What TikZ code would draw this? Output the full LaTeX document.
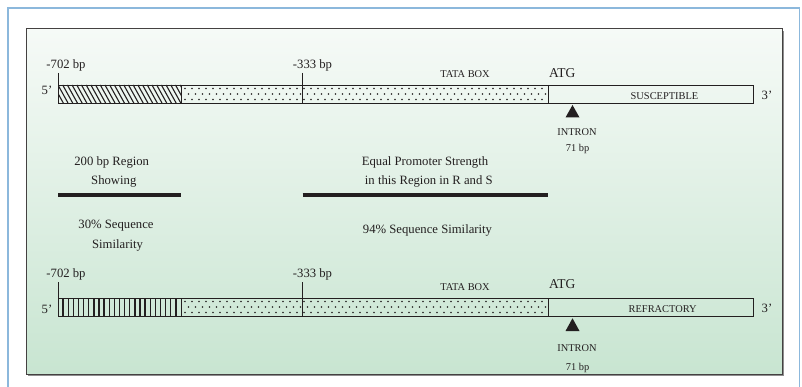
\documentclass[tikz,border=0pt]{standalone}
\usepackage{fontspec}
\setmainfont{Liberation Serif}
\definecolor{frameblue}{HTML}{8CB8DC}
\definecolor{grtop}{HTML}{F6FAF7}
\definecolor{grbot}{HTML}{C8E5D1}
\definecolor{ink}{HTML}{231F20}
\definecolor{shadowgray}{HTML}{8E8E8E}
\begin{document}
\begin{tikzpicture}[x=1pt,y=-1pt,
  lab/.style={inner sep=0pt, anchor=base, text=ink, font=\fontsize{12.7}{14}\selectfont},
  small/.style={inner sep=0pt, anchor=base, text=ink, font=\fontsize{10.4}{12}\selectfont},
  atg/.style={inner sep=0pt, anchor=base, text=ink, font=\fontsize{13.5}{15}\selectfont},
  barline/.style={draw=ink, line width=0.8pt},
  tickline/.style={draw=ink, line width=0.7pt},
  hatchline/.style={draw=ink, line width=1.1pt},
  vline/.style={draw=ink, line width=1.3pt},
  bigbar/.style={draw=ink, line width=4.5pt},
  dotmark/.style={fill=ink},
  intronmark/.style={fill=ink, draw=none}]
\useasboundingbox (0,0) rectangle (802,387);
% outer blue frame
\draw[frameblue, line width=1.4pt] (8,387) -- (8,8) -- (799.5,8) -- (799.5,387);
% inner panel with shadow
\fill[shadowgray] (28,31) rectangle (784,376);
\shade[top color=grtop, bottom color=grbot] (26,29) rectangle (782,374);
\draw[draw=ink!85, line width=1pt] (26,29) rectangle (782,374);

% ================= TOP (SUSCEPTIBLE) =================
\begin{scope}
\clip (58,85) rectangle (181,103);
\foreach \i in {-3,...,27} \draw[hatchline] ({58+\i*4.7},85) -- ++(10,18);
\end{scope}
\begin{scope}
\clip (181,85) rectangle (547,103);
\foreach \i in {0,...,52} {
  \fill[dotmark] ({185+\i*7},88.5) circle (0.8);
  \fill[dotmark] ({188.5+\i*7},94) circle (0.8);
  \fill[dotmark] ({185+\i*7},99.5) circle (0.8);
}
\end{scope}
\draw[barline] (58,85) rectangle (753,103);
\draw[barline] (181,85) -- (181,103);
\draw[barline] (302.7,85) -- (302.7,103);
\draw[barline] (548,85) -- (548,103);
\draw[tickline] (58,73) -- (58,85);
\draw[tickline] (302.7,73) -- (302.7,85);
\fill[intronmark] (572.5,105) -- (579.5,117.5) -- (565.5,117.5) -- cycle;

\node[lab] (t702) at (66,68.3) {-702 bp};
\node[lab] (t333) at (312.5,68.3) {-333 bp};
\node[lab] (t5) at (47,94.3) {5’};
\node[small] (ttata) at (465,77.7) {TATA BOX};
\node[atg, anchor=base west] (tatg) at (549,77.7) {ATG};
\node[small] (tsus) at (664.5,99.5) {SUSCEPTIBLE};
\node[lab] (t3) at (767,99.5) {3’};
\node[small] (tintron) at (577,136) {INTRON};
\node[small] (t71) at (577.5,151.7) {71 bp};

% ================= MIDDLE =================
\draw[bigbar] (58,195) -- (181,195);
\draw[bigbar] (302.7,195) -- (548,195);
\node[lab] (m200) at (111.7,166) {200 bp Region};
\node[lab] (mshow) at (113.8,184.3) {Showing};
\node[lab] (mequal) at (425,166) {Equal Promoter Strength};
\node[lab] (mthis) at (428.8,184.3) {in this Region in R and S};
\node[lab] (m30) at (116,228.3) {30\% Sequence};
\node[lab] (msim) at (117.5,248.3) {Similarity};
\node[lab] (m94) at (427.5,233.3) {94\% Sequence Similarity};

% ================= BOTTOM (REFRACTORY) =================
\foreach \i in {1,...,23} \draw[vline] ({58+\i*5.125},298) -- ({58+\i*5.125},316);
\begin{scope}
\clip (181,298) rectangle (547,316);
\foreach \i in {0,...,52} {
  \fill[dotmark] ({185+\i*7},301.5) circle (0.8);
  \fill[dotmark] ({188.5+\i*7},307) circle (0.8);
  \fill[dotmark] ({185+\i*7},312.5) circle (0.8);
}
\end{scope}
\draw[barline] (58,298) rectangle (753,316);
\draw[barline] (181,298) -- (181,316);
\draw[barline] (302.7,298) -- (302.7,316);
\draw[barline] (548,298) -- (548,316);
\draw[tickline] (58,282) -- (58,298);
\draw[tickline] (302.7,282) -- (302.7,298);
\fill[intronmark] (572.5,318.3) -- (579.5,331) -- (565.5,331) -- cycle;

\node[lab] (b702) at (66,277.3) {-702 bp};
\node[lab] (b333) at (312.5,277.3) {-333 bp};
\node[lab] (b5) at (47,313.3) {5’};
\node[small] (btata) at (465,290) {TATA BOX};
\node[atg, anchor=base west] (batg) at (549,288.3) {ATG};
\node[small] (bref) at (662.7,312.7) {REFRACTORY};
\node[lab] (b3) at (767,312.7) {3’};
\node[small] (bintron) at (577,351.7) {INTRON};
\node[small] (b71) at (577.5,370) {71 bp};
\end{tikzpicture}
\end{document}
